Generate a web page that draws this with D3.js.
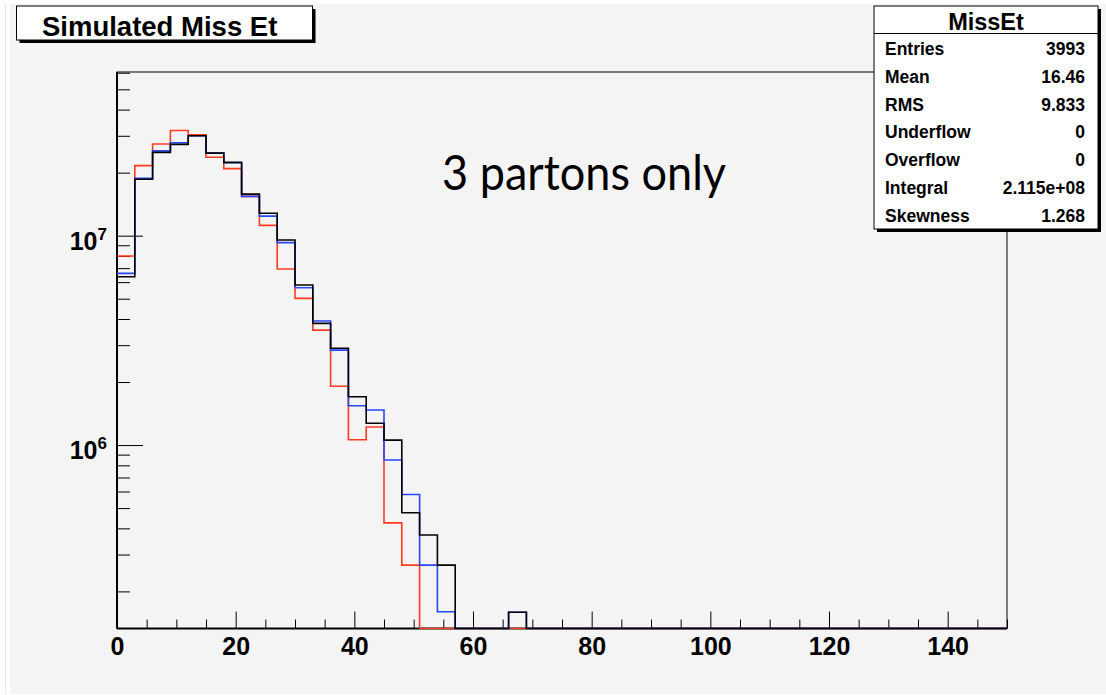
<!DOCTYPE html>
<html><head><meta charset="utf-8">
<script src="https://cdn.jsdelivr.net/npm/d3@7"></script>
<style>body{margin:0;background:#fff}svg{display:block}</style>
</head><body><svg id="c" width="1106" height="695"></svg>
<script>
// ---------- data ----------
const binWidth = 3;
const xDomain = [0, 150];
const yDomain = [1.33e5, 6.05e7];
const xTickLabels = [0, 20, 40, 60, 80, 100, 120, 140];
const xMinorStep = 5;
const yMajorTicks = [1e6, 1e7];
// bin contents (bins of width 3 starting at 0); bins beyond the list are empty
const redCounts   = [8.00e6, 2.16e7, 2.74e7, 3.18e7, 3.03e7, 2.37e7, 2.09e7, 1.54e7, 1.12e7, 6.93e6,
                     5.02e6, 3.54e6, 1.91e6, 1.06e6, 1.22e6, 4.25e5, 2.67e5];
const blueCounts  = [6.61e6, 1.88e7, 2.54e7, 2.78e7, 3.00e7, 2.48e7, 2.23e7, 1.54e7, 1.24e7, 9.26e6,
                     5.64e6, 3.91e6, 2.84e6, 1.54e6, 1.47e6, 8.48e5, 5.81e5, 2.67e5, 1.60e5, 0,
                     0, 0, 1.59e5];
const blackCounts = [6.37e6, 1.86e7, 2.50e7, 2.73e7, 3.00e7, 2.48e7, 2.24e7, 1.58e7, 1.28e7, 9.54e6,
                     5.81e6, 3.81e6, 2.90e6, 1.70e6, 1.27e6, 1.056e6, 4.75e5, 3.72e5, 2.67e5, 0,
                     0, 0, 1.59e5];
const titleText = "Simulated Miss Et";
const annotation = "3 partons only";
const statsTitle = "MissEt";
const statsLabels = ["Entries", "Mean", "RMS", "Underflow", "Overflow", "Integral", "Skewness"];
const statsValues = ["3993", "16.46", "9.833", "0", "0", "2.115e+08", "1.268"];

// ---------- layout ----------
const svg = d3.select("#c");
const F = {l: 117, r: 1007, t: 72, b: 628.5};
const bold = "'Liberation Sans', Arial, Helvetica, sans-serif";

svg.append("rect").attr("x", 10).attr("y", 4).attr("width", 1096).attr("height", 690).attr("fill", "#f4f4f4");
svg.append("line").attr("x1", 5.5).attr("x2", 5.5).attr("y1", 4).attr("y2", 694).attr("stroke", "#e6e6e6");

const x = d3.scaleLinear().domain(xDomain).range([F.l, F.r]);
const y = d3.scaleLog().domain(yDomain).range([F.b, F.t]);

// frame
svg.append("rect").attr("x", F.l).attr("y", F.t).attr("width", F.r - F.l).attr("height", F.b - F.t)
  .attr("fill", "none").attr("stroke", "#000").attr("stroke-width", 1);

// x axis ticks
const xMinor = d3.range(xDomain[0], xDomain[1] + 0.001, xMinorStep).filter(v => v % 20 !== 0);
const gxm = svg.append("g").attr("transform", `translate(0,${F.b})`)
  .call(d3.axisBottom(x).tickValues(xMinor).tickSize(-9).tickFormat(""));
const gx = svg.append("g").attr("transform", `translate(0,${F.b})`)
  .call(d3.axisBottom(x).tickValues(xTickLabels).tickSize(-17).tickPadding(9).tickFormat(d3.format("d")));
[gxm, gx].forEach(g => { g.select(".domain").remove(); g.selectAll(".tick line").attr("stroke", "#000"); });
gx.selectAll("text").attr("font-family", bold).attr("font-weight", "bold").attr("font-size", 25).attr("fill", "#000");

// y axis ticks
const yMinor = y.ticks().filter(v => !yMajorTicks.includes(v));
const gym = svg.append("g").attr("transform", `translate(${F.l},0)`)
  .call(d3.axisLeft(y).tickValues(yMinor).tickSize(-13).tickFormat(""));
const gy = svg.append("g").attr("transform", `translate(${F.l},0)`)
  .call(d3.axisLeft(y).tickValues(yMajorTicks).tickSize(-26).tickFormat(""));
[gym, gy].forEach(g => { g.select(".domain").remove(); g.selectAll(".tick line").attr("stroke", "#000"); });
yMajorTicks.forEach(v => {
  const t = svg.append("text").attr("x", F.l - 10).attr("y", y(v) + 14).attr("text-anchor", "end")
    .attr("font-family", bold).attr("font-weight", "bold").attr("fill", "#000");
  t.append("tspan").attr("font-size", 25).text("10");
  t.append("tspan").attr("font-size", 17).attr("dy", -10).text(String(Math.round(Math.log10(v))));
});

// axis lines
svg.append("line").attr("x1", F.l).attr("x2", F.l).attr("y1", F.t).attr("y2", F.b).attr("stroke", "#000").attr("stroke-width", 2);
svg.append("line").attr("x1", F.l).attr("x2", F.r).attr("y1", F.b).attr("y2", F.b).attr("stroke", "#000").attr("stroke-width", 2);

// histograms
svg.append("clipPath").attr("id", "fr").append("rect")
  .attr("x", F.l).attr("y", F.t).attr("width", F.r - F.l).attr("height", F.b - F.t + 1);
const nBins = Math.round((xDomain[1] - xDomain[0]) / binWidth);
function histPath(counts) {
  const pts = [];
  for (let i = 0; i < nBins; i++) {
    const v = counts[i] || 0;
    const yy = v > 0 ? y(v) : F.b;
    const lo = xDomain[0] + i * binWidth;
    pts.push([x(lo), yy], [x(lo + binWidth), yy]);
  }
  return d3.line()(pts);
}
const series = [
  {counts: redCounts, color: "#ff3b1f"},
  {counts: blueCounts, color: "#2546ff"},
  {counts: blackCounts, color: "#000"}
];
svg.append("g").attr("clip-path", "url(#fr)").selectAll("path").data(series).join("path")
  .attr("d", d => histPath(d.counts)).attr("fill", "none").attr("stroke", d => d.color)
  .attr("stroke-width", 1.6);

// annotation
svg.append("text").attr("x", 442).attr("y", 190).attr("font-family", "Lato, 'Open Sans', sans-serif")
  .attr("font-size", 49).attr("textLength", 284).attr("lengthAdjust", "spacingAndGlyphs")
  .attr("fill", "#000").text(annotation);

// title box
svg.append("rect").attr("x", 19.5).attr("y", 9).attr("width", 296).attr("height", 34).attr("fill", "#000");
svg.append("rect").attr("x", 16.5).attr("y", 6).attr("width", 296).attr("height", 34).attr("fill", "#fff")
  .attr("stroke", "#000").attr("stroke-width", 1);
svg.append("text").attr("x", 42).attr("y", 35.5).attr("font-family", bold).attr("font-weight", "bold")
  .attr("font-size", 27.5).attr("fill", "#000").text(titleText);

// stats box
const S = {x: 874, y: 6, w: 224, h: 223};
svg.append("rect").attr("x", S.x + 3).attr("y", S.y + 3).attr("width", S.w).attr("height", S.h).attr("fill", "#000");
svg.append("rect").attr("x", S.x).attr("y", S.y).attr("width", S.w).attr("height", S.h).attr("fill", "#fff")
  .attr("stroke", "#000").attr("stroke-width", 1);
svg.append("line").attr("x1", S.x).attr("x2", S.x + S.w).attr("y1", 33.5).attr("y2", 33.5).attr("stroke", "#000");
svg.append("text").attr("x", S.x + S.w / 2).attr("y", 30).attr("text-anchor", "middle")
  .attr("font-family", bold).attr("font-weight", "bold").attr("font-size", 23.5).attr("fill", "#000").text(statsTitle);
const rowY = d3.scaleLinear().domain([0, statsLabels.length - 1]).range([55, 221.5]);
const rows = svg.append("g").attr("font-family", bold).attr("font-weight", "bold").attr("font-size", 17.5).attr("fill", "#000");
rows.selectAll("text.l").data(statsLabels).join("text").attr("class", "l")
  .attr("x", 885).attr("y", (d, i) => rowY(i)).text(d => d);
rows.selectAll("text.v").data(statsValues).join("text").attr("class", "v")
  .attr("x", 1085).attr("y", (d, i) => rowY(i)).attr("text-anchor", "end").text(d => d);
</script></body></html>
